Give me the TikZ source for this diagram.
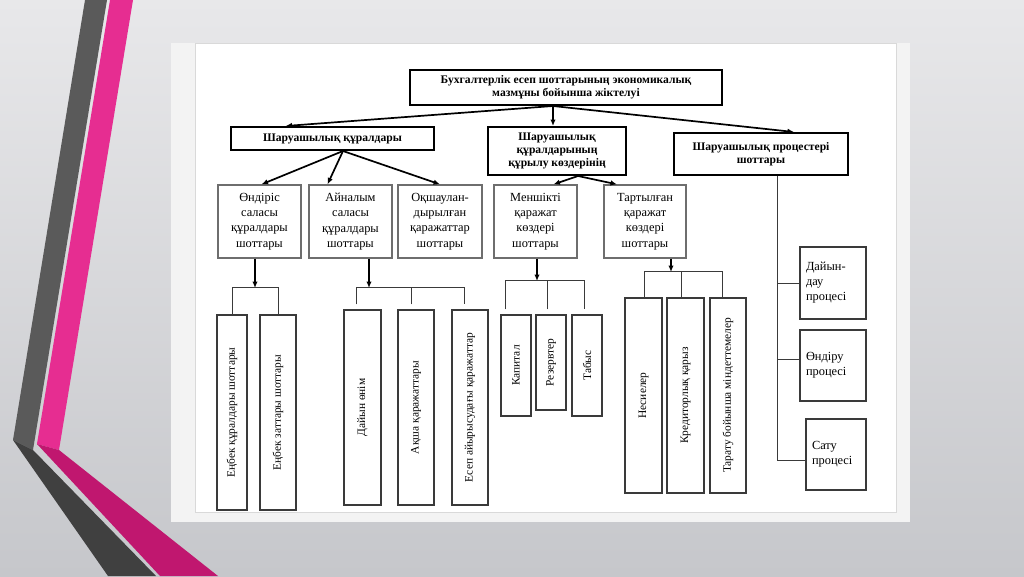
\documentclass[tikz,border=0pt]{standalone}
\usepackage{fontspec}
\setmainfont{Liberation Serif}
\usetikzlibrary{arrows.meta,calc}
\definecolor{bgtop}{HTML}{E8E8EA}
\definecolor{bgbot}{HTML}{C6C7CB}
\definecolor{grayup}{HTML}{5A5A5A}
\definecolor{graylow}{HTML}{404040}
\definecolor{pinkup}{HTML}{E62D91}
\definecolor{pinklow}{HTML}{C0176F}
\definecolor{panelout}{HTML}{F3F3F3}
\definecolor{panelline}{HTML}{D9D9D9}
\definecolor{midgray}{HTML}{6E6E6E}
\definecolor{darkgray}{HTML}{3A3A3A}
\begin{document}
\begin{tikzpicture}[x=1pt,y=-1pt,
  topbox/.style={draw=black,line width=2pt,fill=white,inner sep=0pt,align=center,
    font=\bfseries\fontsize{11.6}{13}\selectfont},
  midbox/.style={draw=midgray,line width=1.3pt,fill=white,inner sep=0pt,align=center,
    font=\fontsize{12.4}{15.3}\selectfont},
  vbox/.style={draw=darkgray,line width=1.2pt,fill=white,inner sep=0pt},
  vtext/.style={rotate=90,inner sep=0pt,font=\fontsize{11.4}{13}\selectfont},
  pbox/.style={draw=darkgray,line width=1.2pt,fill=white,inner sep=0pt,align=left,
    font=\fontsize{12.4}{15}\selectfont},
  arr/.style={-{Latex[length=6.5pt,width=5.5pt]},line width=1.7pt},
  conn/.style={line width=0.9pt,draw=darkgray}]
\useasboundingbox (0,0) rectangle (1024,576);
% background
\shade[top color=bgtop,bottom color=bgbot] (0,0) rectangle (1024,576);
\fill[grayup] (85,0) -- (107,0) -- (33,450) -- (13,440) -- cycle;
\fill[graylow] (13,440) -- (33,450) -- (156,576) -- (108,576) -- cycle;
\fill[pinkup] (110,0) -- (133,0) -- (59,450) -- (37,444) -- cycle;
\fill[pinklow] (37,444) -- (59,450) -- (218,576) -- (160,576) -- cycle;
% panel
\fill[panelout] (171,43) rectangle (910,522);
\filldraw[fill=white,draw=panelline,line width=0.6pt] (195,43) rectangle (896,512);

% top level
\node[topbox,minimum width=312pt,minimum height=35pt] (title) at (566,87.5)
  {Бухгалтерлік есеп шоттарының экономикалық\\мазмұны бойынша жіктелуі};
\node[topbox,minimum width=203pt,minimum height=23pt] (A) at (332.5,138.5)
  {Шаруашылық құралдары};
\node[topbox,minimum width=138pt,minimum height=48pt] (B) at (557,151)
  {Шаруашылық\\құралдарының\\құрылу көздерінің};
\node[topbox,minimum width=174pt,minimum height=42pt] (C) at (761,154)
  {Шаруашылық процестері\\шоттары};

% second level
\node[midbox,minimum width=83pt,minimum height=73pt] (D1) at (259.5,221.5)
  {Өндіріс\\саласы\\құралдары\\шоттары};
\node[midbox,minimum width=83pt,minimum height=73pt] (D2) at (350.5,221.5)
  {Айналым\\саласы\\құралдары\\шоттары};
\node[midbox,minimum width=84pt,minimum height=73pt] (D3) at (440,221.5)
  {Оқшаулан-\\дырылған\\қаражаттар\\шоттары};
\node[midbox,minimum width=83pt,minimum height=73pt] (D4) at (535.5,221.5)
  {Меншікті\\қаражат\\көздері\\шоттары};
\node[midbox,minimum width=82pt,minimum height=73pt] (D5) at (645,221.5)
  {Тартылған\\қаражат\\көздері\\шоттары};

% arrows from title
\coordinate (t0) at ($(title.south)+(-13,0)$);
\draw[arr] (t0) -- ($(A.north)+(-47,0)$);
\draw[arr] (t0) -- (t0 |- B.north);
\draw[arr] (t0) -- ($(C.north)+(33,0)$);
% arrows from A
\coordinate (a0) at ($(A.south)+(10.5,0)$);
\draw[arr] (a0) -- ($(D1.north)+(2,0)$);
\draw[arr] (a0) -- ($(D2.north)+(-23,0)$);
\draw[arr] (a0) -- (D3.north);
% arrows from B
\coordinate (b0) at ($(B.south)+(21,0)$);
\draw[arr] (b0) -- ($(D4.north)+(18,0)$);
\draw[arr] (b0) -- ($(D5.north)+(-28,0)$);

% bottom boxes
\node[vbox,minimum width=30pt,minimum height=195pt] (E1) at (232,412.5) {};
\node[vbox,minimum width=36pt,minimum height=195pt] (E2) at (278,412.5) {};
\node[vbox,minimum width=37pt,minimum height=195pt] (F1) at (362.5,407.5) {};
\node[vbox,minimum width=36pt,minimum height=195pt] (F2) at (416,407.5) {};
\node[vbox,minimum width=36pt,minimum height=195pt] (F3) at (470,407.5) {};
\node[vbox,minimum width=30pt,minimum height=101pt] (G1) at (516,365.5) {};
\node[vbox,minimum width=30pt,minimum height=95pt] (G2) at (551,362.5) {};
\node[vbox,minimum width=30pt,minimum height=101pt] (G3) at (587,365.5) {};
\node[vbox,minimum width=37pt,minimum height=195pt] (H1) at (643.5,395.5) {};
\node[vbox,minimum width=37pt,minimum height=195pt] (H2) at (685.5,395.5) {};
\node[vbox,minimum width=36pt,minimum height=195pt] (H3) at (728,395.5) {};

\node[vtext] at (E1) {Еңбек құралдары шоттары};
\node[vtext] at (E2) {Еңбек заттары шоттары};
\node[vtext] at (F1) {Дайын өнім};
\node[vtext] at (F2) {Ақша қаражаттары};
\node[vtext] at (F3) {Есеп айырысудағы қаражаттар};
\node[vtext] at (G1) {Капитал};
\node[vtext] at (G2) {Резервтер};
\node[vtext] at (G3) {Табыс};
\node[vtext] at (H1) {Несиелер};
\node[vtext] at (H2) {Кредиторлық қарыз};
\node[vtext] at (H3) {Тарату бойынша міндеттемелер};

% right column
\node[pbox,minimum width=66pt,minimum height=72pt,text width=54pt] (I1) at (833,283)
  {Дайын-\\дау\\процесі};
\node[pbox,minimum width=66pt,minimum height=71pt,text width=54pt] (I2) at (833,365.5)
  {Өндіру\\процесі};
\node[pbox,minimum width=60pt,minimum height=71pt,text width=48pt] (I3) at (836,454.5)
  {Сату\\процесі};

% group 1
\coordinate (g1) at (255,288);
\draw[arr] (g1 |- D1.south) -- (g1);
\draw[conn] (E1.north) -- ++(0,-27) -| (E2.north);
% group 2
\coordinate (g2) at (369,288);
\draw[arr] (g2 |- D2.south) -- (g2);
\draw[conn] ($(F1.north)+(-6.5,-5)$) -- ++(0,-17) -| ($(F3.north)+(-6,-5)$);
\draw[conn] ($(F2.north)+(-5,-5)$) -- ($(F2.north)+(-5,-22)$);
% group 3
\coordinate (g3) at (537,281);
\draw[arr] (g3 |- D4.south) -- (g3);
\draw[conn] ($(G1.north)+(-11,-5)$) -- ++(0,-29) -| ($(G3.north)+(-3,-5)$);
\draw[conn] ($(G2.north)+(-4,-5)$) -- ($(G2.north)+(-4,-34)$);
% group 4
\coordinate (g4) at (671,272);
\draw[arr] (g4 |- D5.south) -- (g4);
\draw[conn] ($(H1.north)+(0.5,0)$) -- ++(0,-26) -| ($(H3.north)+(-6,0)$);
\draw[conn] ($(H2.north)+(-4.5,0)$) -- ($(H2.north)+(-4.5,-26)$);
% group 5
\coordinate (c0) at ($(C.south)+(16,0)$);
\draw[conn] (c0) -- (c0 |- 0,460) -- (I3.west |- 0,460);
\draw[conn] (c0 |- 0,283) -- (I1.west |- 0,283);
\draw[conn] (c0 |- 0,359) -- (I2.west |- 0,359);
\end{tikzpicture}
\end{document}
